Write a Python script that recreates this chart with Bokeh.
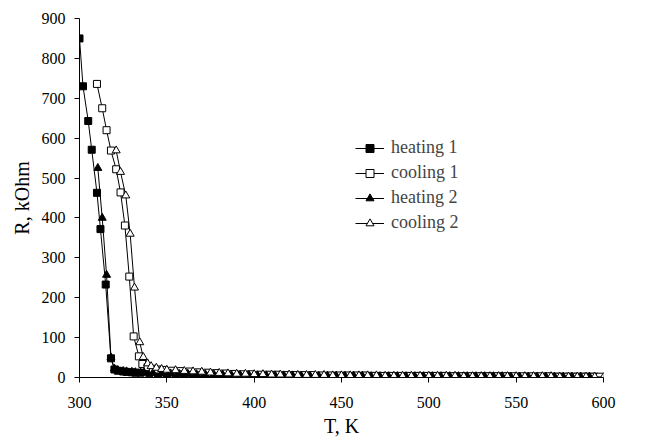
from bokeh.plotting import figure
from bokeh.models import Legend, LegendItem, Range1d, FixedTicker
from bokeh.embed import file_html
from bokeh.resources import INLINE

# ---- data (T in K, R in kOhm) ----
heating1_T = [300, 302, 305, 307, 310, 312, 315, 318, 320, 322, 325, 327, 330, 332, 335,
              340, 345, 350, 355, 360, 365, 370, 375, 380, 385,
              390, 395, 400, 405, 410, 415, 420, 425, 430, 435,
              440, 445, 450, 455, 460, 465, 470, 475, 480, 485,
              490, 495, 500, 505, 510, 515, 520, 525, 530, 535,
              540, 545, 550, 555, 560, 565, 570, 575, 580, 585,
              590, 595]
heating1_R = [850, 730, 643, 571, 463, 372, 233, 48, 20, 17, 15, 14, 13, 12, 12,
              11, 10, 10, 9, 9, 8, 8, 7, 7, 6,
              6, 6, 5, 5, 5, 5, 5, 4, 4, 4,
              4, 4, 4, 4, 4, 4, 3, 3, 3, 3,
              3, 3, 3, 3, 3, 3, 3, 3, 3, 3,
              3, 3, 2, 2, 2, 2, 2, 2, 2, 2,
              2, 2]

cooling1_T = [310, 313, 315.5, 318, 321, 323.5, 326, 328.5, 331, 334, 336, 339, 342, 345, 348,
              353, 358, 363, 368, 373, 378, 383, 388, 393, 398,
              403, 408, 413, 418, 423, 428, 433, 438, 443, 448,
              453, 458, 463, 468, 473, 478, 483, 488, 493, 498,
              503, 508, 513, 518, 523, 528, 533, 538, 543, 548,
              553, 558, 563, 568, 573, 578, 583, 588, 593, 598]
cooling1_R = [736, 675, 620, 569, 522, 464, 381, 253, 103, 53, 34, 26, 22, 20, 19,
              17, 16, 15, 13, 12, 11, 10, 9, 8, 8,
              7, 7, 7, 6, 6, 6, 6, 5, 5, 5,
              5, 5, 5, 4, 4, 4, 4, 4, 4, 4,
              4, 4, 3, 3, 3, 3, 3, 3, 3, 3,
              3, 3, 3, 3, 2, 2, 2, 2, 2, 2]

heating2_T = [310.5, 313, 315.5, 318, 320, 322, 325, 327, 330, 332, 335,
              337, 342, 347, 352, 357, 362, 367, 372, 377, 382,
              387, 392, 397, 402, 407, 412, 417, 422, 427, 432,
              437, 442, 447, 452, 457, 462, 467, 472, 477, 482,
              487, 492, 497, 502, 507, 512, 517, 522, 527, 532,
              537, 542, 547, 552, 557, 562, 567, 572, 577, 582,
              587, 592]
heating2_R = [525, 400, 257, 50, 22, 18, 16, 15, 14, 13, 12,
              12, 11, 10, 10, 9, 9, 8, 8, 7, 7,
              6, 6, 6, 5, 5, 5, 5, 5, 4, 4,
              4, 4, 4, 4, 4, 4, 3, 3, 3, 3,
              3, 3, 3, 3, 3, 3, 3, 3, 3, 3,
              3, 3, 2, 2, 2, 2, 2, 2, 2, 2,
              2, 2]

cooling2_T = [321, 323.5, 326.5, 329, 331.5, 334.5, 336.5, 339, 341, 344, 347, 350,
              355, 360, 365, 370, 375, 380, 385, 390, 395, 400,
              405, 410, 415, 420, 425, 430, 435, 440, 445, 450,
              455, 460, 465, 470, 475, 480, 485, 490, 495, 500,
              505, 510, 515, 520, 525, 530, 535, 540, 545, 550,
              555, 560, 565, 570, 575, 580, 585, 590, 595, 600]
cooling2_R = [569, 515, 456, 360, 225, 88, 51, 35, 28, 24, 21, 19,
              18, 16, 15, 14, 12, 11, 10, 9, 9, 8,
              8, 7, 7, 7, 6, 6, 6, 6, 5, 5,
              5, 5, 5, 5, 4, 4, 4, 4, 4, 4,
              4, 4, 4, 3, 3, 3, 3, 3, 3, 3,
              3, 3, 3, 3, 2, 2, 2, 2, 2, 1]

x_ticks = [300, 350, 400, 450, 500, 550, 600]
y_ticks = [0, 100, 200, 300, 400, 500, 600, 700, 800, 900]

FONT = "Liberation Serif"

p = figure(width=643, height=439, output_backend="svg", toolbar_location=None,
           x_range=Range1d(300, 600), y_range=Range1d(0, 900),
           min_border_left=79, min_border_right=40, min_border_top=18, min_border_bottom=62)
p.outline_line_color = None
p.xgrid.visible = False
p.ygrid.visible = False

for ax in (p.xaxis[0], p.yaxis[0]):
    ax.axis_line_color = "black"
    ax.major_tick_line_color = "black"
    ax.minor_tick_line_color = None
    ax.major_tick_out = 5
    ax.major_tick_in = 0
    ax.major_label_text_font = FONT
    ax.major_label_text_font_size = "16px"
    ax.major_label_text_color = "black"
    ax.axis_label_text_font = FONT
    ax.axis_label_text_font_size = "20px"
    ax.axis_label_text_font_style = "normal"
    ax.axis_label_text_color = "black"

p.xaxis.ticker = FixedTicker(ticks=x_ticks)
p.yaxis.ticker = FixedTicker(ticks=y_ticks)
p.xaxis.axis_label = "T, K"
p.yaxis.axis_label = "R, kOhm"
p.xaxis.major_label_standoff = 14
p.yaxis.major_label_standoff = 9
p.xaxis.axis_label_standoff = 4
p.yaxis.axis_label_standoff = 6

items = []
series = [
    ("heating 1", heating1_T, heating1_R, "square", "black", 7),
    ("cooling 1", cooling1_T, cooling1_R, "square", "white", 7),
    ("heating 2", heating2_T, heating2_R, "triangle", "black", 8),
    ("cooling 2", cooling2_T, cooling2_R, "triangle", "white", 8),
]
for name, xs, ys, marker, fill, size in series:
    ln = p.line(xs, ys, line_color="black", line_width=1)
    sc = p.scatter(xs, ys, marker=marker, size=size, fill_color=fill,
                   line_color="black", line_width=1)
    items.append(LegendItem(label=name, renderers=[ln, sc]))

legend = Legend(items=items, location=(276, 144), border_line_color=None,
                background_fill_alpha=0, label_text_font=FONT,
                label_text_font_size="18px", glyph_width=29, glyph_height=20,
                label_standoff=7, spacing=4, padding=4, margin=0,
                label_height=20)
p.add_layout(legend, "center")

open("out.html", "w").write(file_html(p, INLINE))
